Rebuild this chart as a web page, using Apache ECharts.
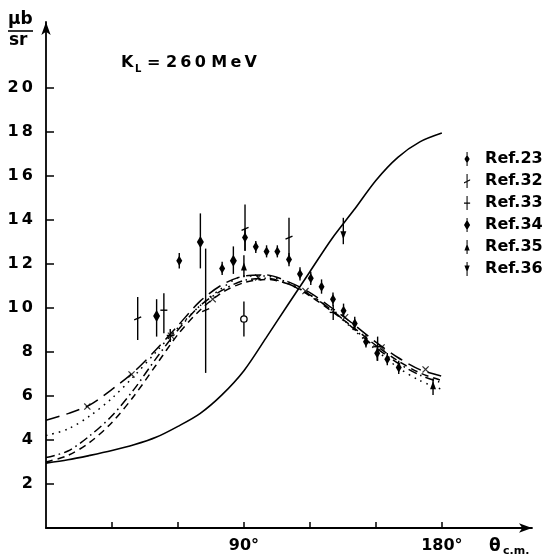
<!DOCTYPE html>
<html><head><meta charset="utf-8">
<script src="https://cdn.jsdelivr.net/npm/echarts@6/dist/echarts.min.js"></script>
<style>html,body{margin:0;padding:0;background:#fff}#c{width:548px;height:558px}</style>
</head><body><div id="c"></div>
<script>
// ---- data ----
const thetaGrid = [0,10,20,30,40,50,60,70,80,90,100,110,120,130,140,150,160,170,180];
const solidCurve = [2.95,3.1,3.3,3.52,3.78,4.12,4.62,5.2,6.05,7.15,8.63,10.15,11.65,13.15,14.45,15.8,16.85,17.55,17.95];
const longDashCurve = [4.9,5.2,5.6,6.3,7.1,8.1,9.2,10.3,11.05,11.45,11.5,11.2,10.7,10.0,9.25,8.45,7.75,7.2,6.9];
const dottedCurve = [4.2,4.5,5.1,5.9,6.9,8.0,9.1,10.1,10.9,11.45,11.45,11.15,10.6,9.9,9.0,8.1,7.3,6.7,6.3];
const dashDotCurve = [3.2,3.5,4.2,5.1,6.3,7.7,9.0,10.1,10.8,11.25,11.35,11.1,10.6,9.9,9.05,8.2,7.5,6.95,6.6];
const shortDashCurve = [3.0,3.3,3.9,4.8,6.0,7.4,8.8,9.9,10.7,11.15,11.3,11.1,10.55,9.85,9.1,8.3,7.6,7.05,6.7];

// [theta, value, low, high]
const ref23 = [[60.6,12.15,11.8,12.5],[80.1,11.8,11.5,12.1],[90.5,13.2,12.6,13.6],[95.4,12.78,12.5,13.05],
  [100.3,12.57,12.3,12.85],[105.2,12.57,12.3,12.85],[110.5,12.2,11.9,12.5],[115.5,11.55,11.25,11.85],
  [120.4,11.35,11.05,11.65],[125.3,10.97,10.65,11.3],[130.5,10.4,10.1,10.7],[135.3,9.88,9.6,10.2],
  [140.4,9.3,9.0,9.6],[145.5,8.47,8.2,8.8],[150.6,7.94,7.6,8.2],[155.2,7.67,7.4,7.95],[160.4,7.3,7.0,7.6]];
const ref32 = [[41.7,9.53,8.55,10.5],[72.6,9.9,7.05,12.7],[90.5,13.6,12.6,14.7],[110.5,13.2,12.2,14.1]];
const ref33 = [[53.6,9.9,8.85,10.67],[56.5,8.75,8.45,9.05],[130.6,9.8,9.45,10.15],[150.8,8.24,7.6,8.7]];
const ref34 = [[50.3,9.64,8.7,10.4],[70.2,13.0,11.8,14.3],[85.2,12.15,11.55,12.8]];
const ref35 = [[90.0,11.8,11.4,12.4],[176.0,6.4,6.05,6.8]];
const ref36 = [[135.2,13.4,12.9,14.1]];
const openPoint = [[90.0,9.5,8.7,10.3]];
const calcPoints = [[18.8,5.52],[38.9,6.98],[56.8,8.74],[75.8,10.4],[96.5,11.39],[118,10.77],[136,9.58],[152.6,8.21],[172.6,7.21]];
const yTicks = [2,4,6,8,10,12,14,16,18,20];
const xTicks = [30,60,90,120,150,180];
const xLabelTicks = [90,180];

// ---- rendering ----
const FONT = 'DejaVu Sans';
const pair = vals => thetaGrid.map((t,i)=>[t, vals[i]]);

function markerShape(kind, cx, cy){
  const fill = {fill:'#000'};
  switch(kind){
    case 'diamond': return {type:'polygon', shape:{points:[[cx,cy-5],[cx+3,cy],[cx,cy+5],[cx-3,cy]]}, style:fill};
    case 'bigdiamond': return {type:'polygon', shape:{points:[[cx,cy-6],[cx+3.5,cy],[cx,cy+6],[cx-3.5,cy]]}, style:fill};
    case 'slant': return {type:'line', shape:{x1:cx-3.5,y1:cy+1.5,x2:cx+3.5,y2:cy-1.5}, style:{stroke:'#000',lineWidth:1.4}};
    case 'tick': return {type:'line', shape:{x1:cx-3.5,y1:cy,x2:cx+3.5,y2:cy}, style:{stroke:'#000',lineWidth:1.4}};
    case 'up': return {type:'polygon', shape:{points:[[cx,cy-6],[cx+3,cy+2],[cx-3,cy+2]]}, style:fill};
    case 'down': return {type:'polygon', shape:{points:[[cx-3,cy-2],[cx+3,cy-2],[cx,cy+6]]}, style:fill};
    case 'circle': return {type:'circle', shape:{cx:cx,cy:cy,r:3.2}, style:{fill:'#fff',stroke:'#000',lineWidth:1.3}};
  }
}
function errSeries(name, data, kind){
  return {
    name: name, type:'custom', data: data, encode:{x:0,y:1}, itemStyle:{color:'#000'}, z:5,
    renderItem: function(params, api){
      const p = api.coord([api.value(0), api.value(1)]);
      const lo = api.coord([api.value(0), api.value(2)]);
      const hi = api.coord([api.value(0), api.value(3)]);
      return {type:'group', children:[
        {type:'line', shape:{x1:p[0],y1:lo[1],x2:p[0],y2:hi[1]}, style:{stroke:'#000',lineWidth:1.4}},
        markerShape(kind, p[0], p[1])
      ]};
    }
  };
}
function curve(name, vals, type, width){
  return {name:name, type:'line', data:pair(vals), smooth:0.3, symbol:'none', silent:true,
    lineStyle:{color:'#000', width:width||1.5, type:type}, z:3};
}

const bar = 'M4.4,0 h1.2 v16 h-1.2 z ';
const legendIcons = {
  'Ref.23': 'path://' + bar + 'M5,3 l3,5 l-3,5 l-3,-5 z',
  'Ref.32': 'path://' + bar + 'M1.5,9.5 l7,-3.5 v1.4 l-7,3.5 z',
  'Ref.33': 'path://' + bar + 'M1.5,7.5 h7 v1.3 h-7 z',
  'Ref.34': 'path://' + bar + 'M5,2 l3.5,6 l-3.5,6 l-3.5,-6 z',
  'Ref.35': 'path://' + bar + 'M5,4 l3,8 h-6 z',
  'Ref.36': 'path://' + bar + 'M2,4 h6 l-3,8 z'
};

const chart = echarts.init(document.getElementById('c'), null, {renderer:'canvas'});
chart.setOption({
  animation:false,
  backgroundColor:'#fff',
  grid:{left:46, right:16, top:22, bottom:30},
  xAxis:{type:'value', min:0, max:221,
    axisLine:{lineStyle:{color:'#000', width:1.8}, symbol:['none','arrow'], symbolSize:[7,13]},
    axisTick:{customValues:xTicks, inside:true, length:6, lineStyle:{color:'#000',width:1.5}},
    axisLabel:{customValues:xLabelTicks, formatter:v=>v+'°', color:'#000', fontFamily:FONT, fontWeight:'bold', fontSize:16, margin:10},
    splitLine:{show:false}},
  yAxis:{type:'value', min:0, max:23,
    axisLine:{lineStyle:{color:'#000', width:1.8}, symbol:['none','arrow'], symbolSize:[7,13]},
    axisTick:{customValues:yTicks, inside:true, length:8, lineStyle:{color:'#000',width:1.5}},
    axisLabel:{customValues:yTicks, formatter:v=>String(v).split('').join('\u2009'), color:'#000', fontFamily:FONT, fontWeight:'bold', fontSize:16, margin:13},
    splitLine:{show:false}},
  legend:{orient:'vertical', left:459, top:146, itemWidth:8, itemHeight:14, itemGap:6,
    textStyle:{fontFamily:FONT, fontWeight:'bold', fontSize:16, color:'#000', lineHeight:14, padding:[0,0,0,9]},
    data:Object.keys(legendIcons).map(n=>({name:n, icon:legendIcons[n]})), selectedMode:false},
  graphic:[
    {type:'text', left:8, top:11, style:{text:'μb', font:'bold 17px "DejaVu Sans"', fill:'#000'}},
    {type:'line', shape:{x1:8,y1:31,x2:33,y2:31}, style:{stroke:'#000', lineWidth:1.6}},
    {type:'text', left:9, top:32, style:{text:'sr', font:'bold 17px "DejaVu Sans"', fill:'#000'}},
    {type:'text', left:121, top:55, style:{text:'K', font:'bold 16px "DejaVu Sans"', fill:'#000'}},
    {type:'text', left:135, top:64, style:{text:'L', font:'bold 10px "DejaVu Sans"', fill:'#000'}},
    {type:'text', left:147, top:55, style:{text:'= 2\u20096\u20090 M\u2009e\u2009V', font:'bold 16px "DejaVu Sans"', fill:'#000'}},
    {type:'text', left:489, top:538, style:{text:'θ', font:'bold 17px "DejaVu Sans"', fill:'#000'}},
    {type:'text', left:503, top:546, style:{text:'c.m.', font:'bold 11px "DejaVu Sans"', fill:'#000'}}
  ],
  series:[
    curve('solid', solidCurve, 'solid', 1.6),
    curve('longdash', longDashCurve, [14,7]),
    curve('dotted', dottedCurve, [1.6,5]),
    curve('dashdot', dashDotCurve, [9,4,1.6,4]),
    curve('shortdash', shortDashCurve, [7,5]),
    errSeries('Ref.23', ref23, 'diamond'),
    errSeries('Ref.32', ref32, 'slant'),
    errSeries('Ref.33', ref33, 'tick'),
    errSeries('Ref.34', ref34, 'bigdiamond'),
    errSeries('Ref.35', ref35, 'up'),
    errSeries('Ref.36', ref36, 'down'),
    errSeries('open', openPoint, 'circle'),
    {name:'calc', type:'scatter', data:calcPoints, symbol:'path://M0,1.2 L1.2,0 L5,3.8 L8.8,0 L10,1.2 L6.2,5 L10,8.8 L8.8,10 L5,6.2 L1.2,10 L0,8.8 L3.8,5 Z',
      symbolSize:7, itemStyle:{color:'#000'}, z:6, silent:true}
  ]
});
</script></body></html>
